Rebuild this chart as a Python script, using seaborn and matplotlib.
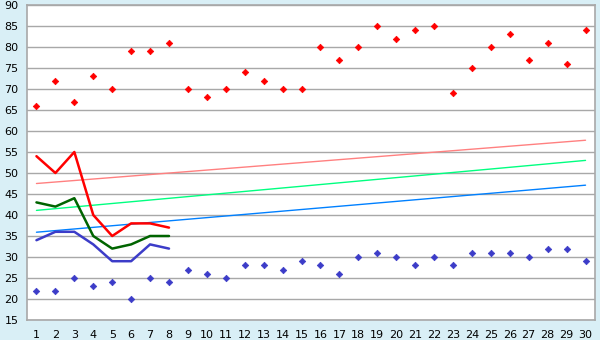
import numpy as np
import pandas as pd
import matplotlib
matplotlib.use("Agg")
import matplotlib.pyplot as plt
import seaborn as sns

days = list(range(1, 31))
red_points = [66, 72, 67, 73, 70, 79, 79, 81, 70, 68, 70, 74, 72, 70, 70,
              80, 77, 80, 85, 82, 84, 85, 69, 75, 80, 83, 77, 81, 76, 84]
blue_points = [22, 22, 25, 23, 24, 20, 25, 24, 27, 26, 25, 28, 28, 27, 29,
               28, 26, 30, 31, 30, 28, 30, 28, 31, 31, 31, 30, 32, 32, 29]
line_days = list(range(1, 9))
red_line = [54, 50, 55, 40, 35, 38, 38, 37]
green_line = [43, 42, 44, 35, 32, 33, 35, 35]
blue_line = [34, 36, 36, 33, 29, 29, 33, 32]
trend_x = [1, 30]
pink_trend = [47.5, 57.8]
green_trend = [41.1, 53.0]
blue_trend = [35.9, 47.1]
y_ticks = list(range(15, 95, 5))

sns.set_style("white")
plt.rcParams['font.family'] = ['DejaVu Sans']

fig = plt.figure(figsize=(6, 3.4), dpi=100)
fig.patch.set_facecolor("#d9eff6")
ax = fig.add_axes([27/600, 1-320/340, (595-27)/600, (320-5)/340])
ax.set_facecolor("white")

for yv in y_ticks:
    ax.axhline(yv, color="#a8a8a8", lw=1.0, zorder=0)

sns.lineplot(x=trend_x, y=pink_trend, color="#ff8080", lw=1.0, ax=ax)
sns.lineplot(x=trend_x, y=green_trend, color="#00ff80", lw=1.0, ax=ax)
sns.lineplot(x=trend_x, y=blue_trend, color="#0080ff", lw=1.0, ax=ax)

sns.lineplot(x=line_days, y=red_line, color="#ff0000", lw=1.8, ax=ax)
sns.lineplot(x=line_days, y=green_line, color="#006400", lw=1.8, ax=ax)
sns.lineplot(x=line_days, y=blue_line, color="#3c3cc8", lw=1.8, ax=ax)

sns.scatterplot(x=days, y=red_points, color="#ff0000", marker="D", s=11,
                edgecolor="#ff0000", linewidth=0.5, ax=ax, zorder=5)
sns.scatterplot(x=days, y=blue_points, color="#3c3cc8", marker="D", s=11,
                edgecolor="#3c3cc8", linewidth=0.5, ax=ax, zorder=5)

ax.set_xlim(0.5, 30.5)
ax.set_ylim(15, 90)
ax.set_xticks(days)
ax.set_xticklabels([str(d) for d in days])
ax.set_yticks(y_ticks)
ax.tick_params(axis="both", labelsize=8, length=4, width=1, color="#333333",
               direction="out", pad=2, labelcolor="#000000")
ax.tick_params(axis="x", pad=3)
for s in ax.spines.values():
    s.set_color("#a8a8a8")
    s.set_linewidth(1.2)
    s.set_visible(True)
ax.set_xlabel("")
ax.set_ylabel("")
fig.savefig("out.png", dpi=100, facecolor=fig.get_facecolor())
